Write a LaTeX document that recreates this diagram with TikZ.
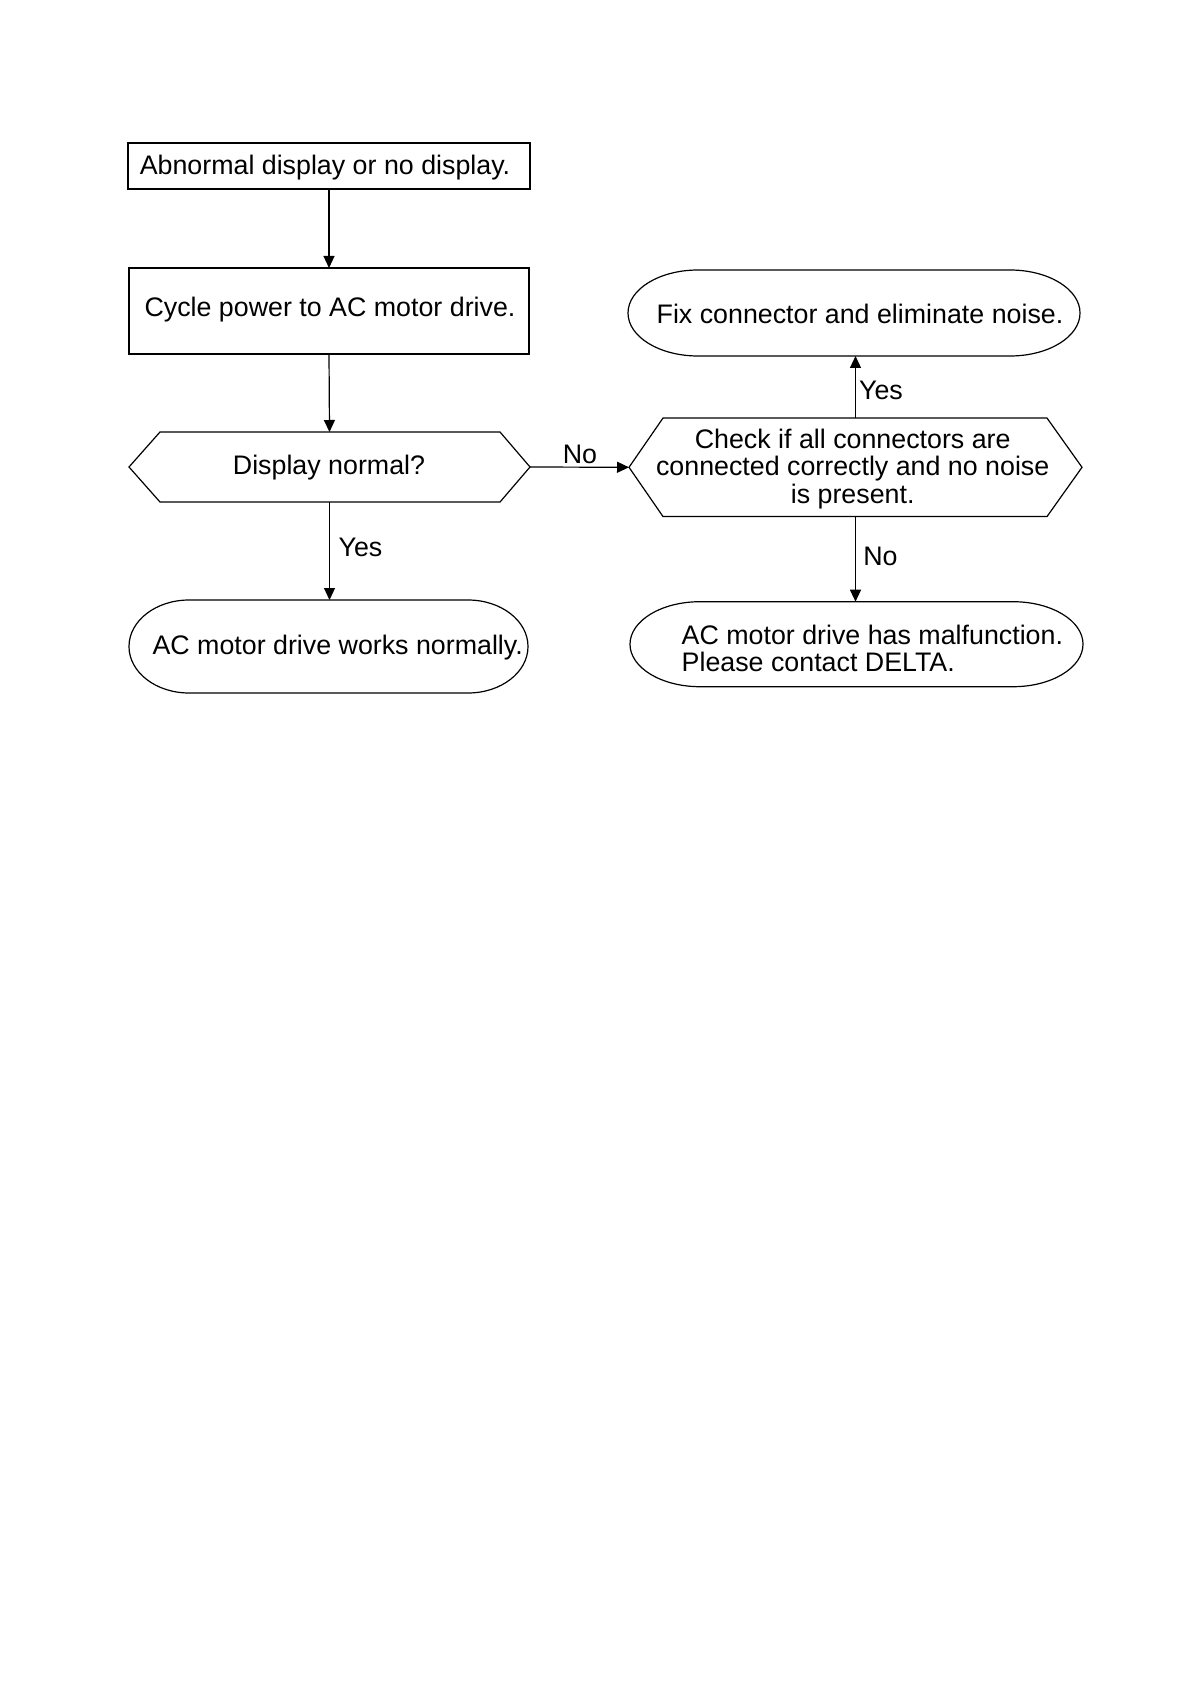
\documentclass[tikz,border=0pt]{standalone}
\usepackage{fontspec}
\setmainfont{Liberation Sans}
\usetikzlibrary{arrows.meta,calc}
\begin{document}
\begin{tikzpicture}[x=0.5pt,y=-0.5pt,
  every node/.style={font=\fontsize{13.4pt}{13.75pt}\selectfont, inner sep=0pt, outer sep=0pt},
  box/.style={draw, line width=0.6pt, rectangle, inner sep=0pt},
  frame/.style={rectangle, draw=none, inner sep=0pt},
  outline/.style={draw, line width=0.6pt, line join=miter},
  conn/.style={line width=0.6pt, -{Triangle[length=6pt,width=5.5pt]}},
  txt/.style={anchor=base}]
\useasboundingbox (0,0) rectangle (1191,1684);

% shapes
\node[box, minimum width=201pt, minimum height=23pt] (b1) at (329,166) {};
\node[box, minimum width=200pt, minimum height=43pt] (b2) at (329,311) {};

\node[frame, minimum width=200.5pt, minimum height=35pt] (h1) at (329.5,467) {};
\draw[outline] (h1.west) -- ($(h1.north west)+(31,0)$) -- ($(h1.north east)+(-30,0)$) -- (h1.east)
  -- ($(h1.south east)+(-30,0)$) -- ($(h1.south west)+(31,0)$) -- cycle;

\node[frame, minimum width=226.5pt, minimum height=49.25pt] (h2) at (855.5,467.3) {};
\draw[outline] (h2.west) -- ($(h2.north west)+(34,0)$) -- ($(h2.north east)+(-35,0)$) -- (h2.east)
  -- ($(h2.south east)+(-35,0)$) -- ($(h2.south west)+(34,0)$) -- cycle;

\node[frame, minimum width=199.5pt, minimum height=46.5pt] (t1) at (328.5,646.5) {};
\draw[outline] ($(t1.north west)+(60,0)$) -- ($(t1.north east)+(-60,0)$)
  arc[start angle=90,end angle=-90,x radius=30pt,y radius=23.25pt]
  -- ($(t1.south west)+(60,0)$)
  arc[start angle=270,end angle=90,x radius=30pt,y radius=23.25pt] -- cycle;

\node[frame, minimum width=226pt, minimum height=43pt] (t2) at (854,313) {};
\draw[outline] ($(t2.north west)+(70,0)$) -- ($(t2.north east)+(-70,0)$)
  arc[start angle=90,end angle=-90,x radius=35pt,y radius=21.5pt]
  -- ($(t2.south west)+(70,0)$)
  arc[start angle=270,end angle=90,x radius=35pt,y radius=21.5pt] -- cycle;

\node[frame, minimum width=226.5pt, minimum height=42.5pt] (t3) at (856.5,644.2) {};
\draw[outline] ($(t3.north west)+(70,0)$) -- ($(t3.north east)+(-70,0)$)
  arc[start angle=90,end angle=-90,x radius=35pt,y radius=21.25pt]
  -- ($(t3.south west)+(70,0)$)
  arc[start angle=270,end angle=90,x radius=35pt,y radius=21.25pt] -- cycle;

% texts
\node[txt] (b1t) at (325,174.3) {Abnormal display or no display.};
\node[txt] (b2t) at (330,316.7) {Cycle power to AC motor drive.};
\node[txt] (h1t) at (329,474) {Display normal?};
\node[txt, align=center] (h2t) at (852.7,503.3) {Check if all connectors are\\connected correctly and no noise\\is present.};
\node[txt] (t1t) at (337.7,654.3) {AC motor drive works normally.};
\node[txt] (t2t) at (860,324) {Fix connector and eliminate noise.};
\node[align=left, anchor=base west] (t3t) at (681.7,671.5) {AC motor drive has malfunction.\\Please contact DELTA.};

% connectors
\draw[conn] (b1.south) -- (b2.north);
\draw[conn] (b2.south) -- (h1.north);
\draw[conn] (h1.east) -- (h2.west);
\draw[conn] (h1.south) -- (h1.south |- t1.north);
\draw[conn] (h2.north) -- (h2.north |- t2.south);
\draw[conn] (h2.south) -- (h2.south |- t3.north);

% labels
\node[txt] (l1) at (580,464) {No};
\node[txt] (l2) at (360.5,556) {Yes};
\node[txt] (l3) at (881,399.3) {Yes};
\node[txt] (l4) at (880.5,565.7) {No};
\end{tikzpicture}
\end{document}
